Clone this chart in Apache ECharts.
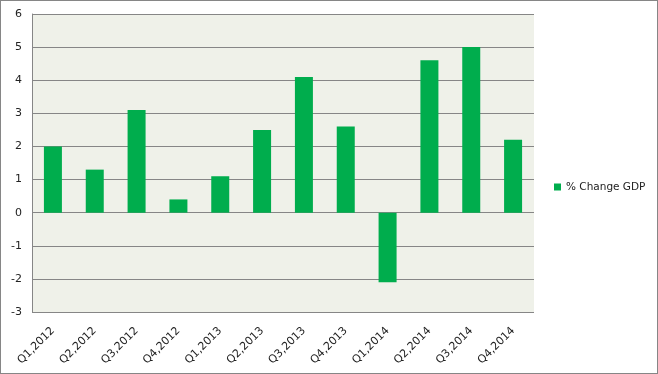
<!DOCTYPE html>
<html>
<head>
<meta charset="utf-8">
<script src="https://cdn.jsdelivr.net/npm/echarts@6/dist/echarts.min.js"></script>
<style>
html,body{margin:0;padding:0;background:#fff;}
#c{position:absolute;left:0;top:0;width:656px;height:372px;border:1px solid #868686;}
</style>
</head>
<body>
<div id="c"></div>
<script>
const categories = ["Q1,2012","Q2,2012","Q3,2012","Q4,2012","Q1,2013","Q2,2013","Q3,2013","Q4,2013","Q1,2014","Q2,2014","Q3,2014","Q4,2014"];
const gdpChange = [2.0, 1.3, 3.1, 0.4, 1.1, 2.5, 4.1, 2.6, -2.1, 4.6, 5.0, 2.2];
const seriesName = "% Change GDP";

const chart = echarts.init(document.getElementById('c'), null, {renderer:'canvas'});
const font = "Tahoma, 'DejaVu Sans', sans-serif";
chart.setOption({
  animation:false,
  grid:{left:31, top:13, right:123, bottom:61, containLabel:false,
        show:true, backgroundColor:'#EFF1E9', borderWidth:0},
  legend:{
    data:[seriesName], left:548, top:'middle', orient:'vertical',
    itemWidth:7, itemHeight:7, itemGap:4, icon:'rect',
    textStyle:{fontFamily:font, fontSize:10.5, color:'#222', padding:[0,0,0,0]}
  },
  xAxis:{
    type:'category', data:categories,
    axisLine:{show:false}, axisTick:{show:false},
    axisLabel:{rotate:45, interval:0, fontFamily:font, fontSize:11, color:'#222', margin:17}
  },
  yAxis:{
    type:'value', min:-3, max:6, interval:1,
    axisLine:{show:true, onZero:false, lineStyle:{color:'#868686', width:1}},
    axisTick:{show:false},
    splitLine:{lineStyle:{color:'#868686', width:1}},
    axisLabel:{fontFamily:font, fontSize:11, color:'#222', margin:10}
  },
  series:[{
    name:seriesName, type:'bar', data:gdpChange, barWidth:18,
    itemStyle:{color:'#00AD4D'}
  }]
});
</script>
</body>
</html>
